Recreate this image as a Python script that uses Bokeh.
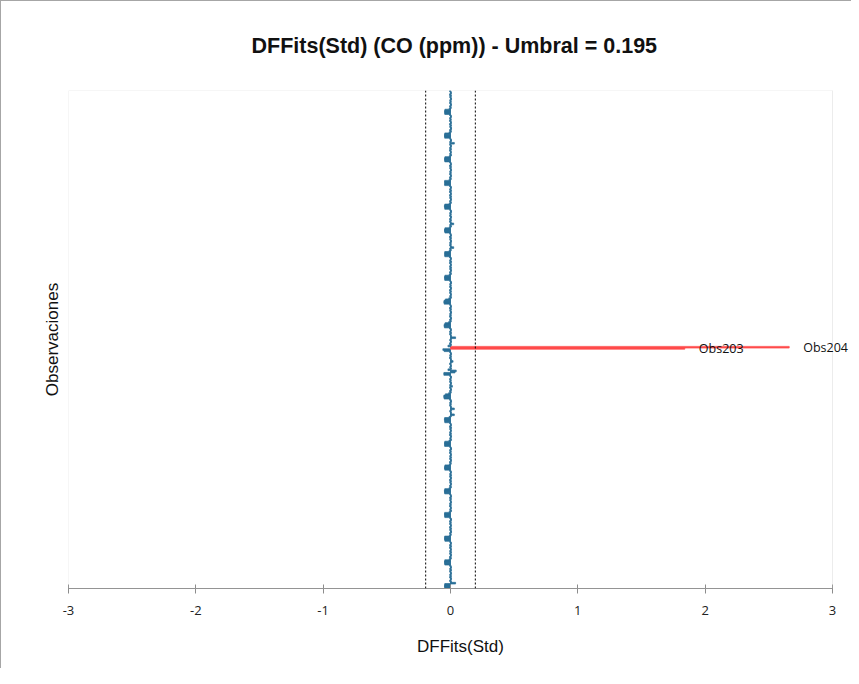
from bokeh.plotting import figure
from bokeh.models import ColumnDataSource, Span, Range1d, FixedTicker, Label, BoxAnnotation
from bokeh.embed import file_html
from bokeh.resources import INLINE

title_text = "DFFits(Std) (CO (ppm)) - Umbral = 0.195"
x_label = "DFFits(Std)"
y_label = "Observaciones"
threshold = 0.195
x_ticks = [-3, -2, -1, 0, 1, 2, 3]

dffits = [
    -0.044, -0.047, -0.047, -0.045, 0.040, 0.008, -0.007, 0.006, 0.008, -0.007, 0.007, -0.006, 0.008, 0.006, -0.007, 0.008, -0.006, 0.007, 0.006, -0.008,
    -0.045, -0.046, -0.047, -0.045, -0.010, 0.007, -0.008, 0.006, 0.008, -0.007, 0.008, -0.006, 0.007, 0.006, -0.008, 0.008, -0.007, 0.006, 0.007, -0.006,
    -0.044, -0.047, -0.046, -0.046, -0.009, 0.006, -0.007, 0.008, 0.007, -0.006, 0.008, -0.008, 0.006, 0.007, -0.007, 0.006, -0.008, 0.007, 0.008, -0.006,
    -0.045, -0.046, -0.047, -0.046, -0.010, 0.008, -0.006, 0.007, 0.006, -0.008, 0.006, -0.007, 0.008, 0.006, -0.006, 0.007, -0.007, 0.008, 0.006, -0.007,
    -0.046, -0.047, -0.048, -0.045, -0.011, 0.007, -0.007, 0.006, 0.008, -0.006, 0.007, -0.008, 0.006, 0.008, -0.007, 0.008, -0.006, 0.006, 0.007, -0.008,
    -0.045, -0.047, -0.046, -0.044, -0.009, 0.006, -0.008, 0.007, 0.007, -0.007, 0.008, -0.006, 0.007, 0.006, -0.008, 0.006, -0.007, 0.008, 0.007, -0.006,
    -0.046, -0.046, -0.047, -0.045, -0.012, 0.008, -0.006, 0.006, 0.008, -0.008, 0.007, -0.007, 0.006, 0.007, -0.006, 0.008, -0.008, 0.007, 0.006, -0.007,
    -0.045, -0.045, -0.048, -0.046, -0.011, 0.007, 0.030, 0.006, 0.007, -0.006, 0.008, 0.030, 0.007, 0.006, -0.007, 0.006, -0.006, 0.008, 0.007, -0.008,
    -0.050, -0.052, -0.052, -0.040, -0.014, 0.006, -0.007, 0.008, 0.006, -0.008, 0.015, -0.006, 0.007, 0.008, -0.007, 0.006, -0.007, 0.006, 0.008, -0.006,
    -0.052, -0.052, 0.035, 0.045, -0.020, 0.008, -0.006, 0.007, 0.006, -0.007, 0.007, 0.020, 0.006, 0.007, -0.008, 0.007, -0.006, 0.008, 0.006, -0.007,
    -0.050, -0.060, 1.840, 2.660, -0.020, 0.007, -0.008, 0.006, 0.008, -0.006, 0.008, 0.040, 0.007, 0.006, -0.007, 0.008, -0.007, 0.006, 0.007, -0.008,
    -0.048, -0.050, -0.049, -0.042, -0.014, 0.006, -0.007, 0.008, 0.007, -0.008, 0.006, -0.006, 0.008, 0.007, -0.006, 0.007, -0.008, 0.007, 0.006, -0.007,
    -0.050, -0.052, -0.050, -0.040, -0.013, 0.008, -0.006, 0.007, 0.006, -0.007, 0.007, -0.008, 0.006, 0.008, -0.007, 0.006, -0.006, 0.008, 0.007, -0.006,
    -0.045, -0.046, -0.047, -0.044, -0.010, 0.007, -0.008, 0.006, 0.008, -0.006, 0.008, -0.007, 0.007, 0.006, -0.008, 0.008, -0.007, 0.006, 0.007, -0.008,
    -0.045, -0.045, -0.046, -0.045, -0.011, 0.006, -0.007, 0.025, 0.007, -0.007, 0.006, -0.006, 0.008, 0.007, -0.006, 0.007, -0.008, 0.007, 0.006, -0.007,
    -0.044, -0.047, -0.047, -0.044, -0.009, 0.008, -0.006, 0.025, 0.006, -0.008, 0.007, -0.007, 0.006, 0.008, -0.007, 0.006, -0.006, 0.008, 0.007, -0.006,
    -0.045, -0.046, -0.048, -0.045, -0.010, 0.007, -0.007, 0.006, 0.008, -0.006, 0.008, -0.008, 0.007, 0.006, -0.008, 0.008, -0.007, 0.006, 0.007, -0.008,
    -0.046, -0.045, -0.046, -0.046, -0.011, 0.006, -0.008, 0.007, 0.007, -0.007, 0.006, -0.006, 0.008, 0.007, -0.006, 0.007, -0.008, 0.007, 0.006, -0.007,
    -0.045, -0.046, -0.047, -0.044, -0.009, 0.008, -0.006, 0.006, 0.006, -0.008, 0.007, -0.007, 0.006, 0.008, -0.007, 0.030, -0.006, 0.008, 0.007, -0.006,
    -0.046, -0.047, -0.047, -0.045, -0.011, 0.007, -0.007, 0.008, 0.008, -0.006, 0.008, -0.008, 0.007, 0.006, -0.008, 0.006, -0.007, 0.006, 0.007, -0.008,
    -0.045, -0.046, -0.046, -0.044, -0.010, 0.006, -0.008, 0.007, 0.007, -0.007, 0.006, -0.006, 0.008, 0.007, -0.006, 0.007, -0.008, 0.007, 0.006, -0.007,
]

obs = list(range(1, len(dffits) + 1))
names = ["Obs%d" % i for i in obs]
colors = ["#FF4B4B" if abs(v) > threshold else "#2A6F97" for v in dffits]

bars = ColumnDataSource(dict(obs=obs, val=dffits, color=colors))

# frame extends a little past 3 so the point labels are not clipped
p = figure(width=851, height=668, output_backend="svg", toolbar_location=None,
           x_range=Range1d(-3, 3.157), y_range=Range1d(0.5, len(dffits) + 0.5),
           min_border_left=67, min_border_right=0, min_border_top=89,
           min_border_bottom=81)
p.styles = {"border-left": "1px solid #A6A6A6", "border-top": "1px solid #A6A6A6"}
p.background_fill_color = "white"
p.border_fill_color = "white"
p.outline_line_color = None
p.grid.visible = False

# plot-area border from -3 to 3
p.add_layout(BoxAnnotation(left=x_ticks[0], right=x_ticks[-1], fill_alpha=0,
                           line_color="#BFBFBF", line_width=1))

p.title.text = title_text
p.title.align = "left"
p.title.offset = 183
p.title.vertical_align = "top"
p.title.text_font = "Liberation Sans"
p.title.text_font_size = "21.5px"
p.title.text_font_style = "bold"
p.title.text_color = "#111111"
p.title.standoff = 62

p.hbar(y="obs", left=0, right="val", height=1.4, fill_color="color",
       line_color="color", line_width=0.7, source=bars)

for loc in (-threshold, threshold):
    p.add_layout(Span(location=loc, dimension="height", line_color="black",
                      line_width=1, line_dash="2 2"))

for i, v in enumerate(dffits):
    if abs(v) > threshold:
        p.add_layout(Label(x=v, y=obs[i], text=names[i], x_offset=14,
                           text_baseline="middle", text_align="left",
                           text_font="Open Sans", text_font_size="12.5px",
                           text_color="#111111"))

p.xaxis.ticker = FixedTicker(ticks=x_ticks)
p.xaxis.bounds = (x_ticks[0], x_ticks[-1])
p.xaxis.major_label_overrides = {t: str(t) for t in x_ticks}
p.xaxis.axis_label = x_label
p.xaxis.axis_line_color = "#8C8C8C"
p.xaxis.major_tick_line_color = "#8C8C8C"
p.xaxis.major_tick_in = 4
p.xaxis.major_tick_out = 5
p.xaxis.minor_tick_line_color = None
p.xaxis.major_label_standoff = 12
p.xaxis.major_label_text_font = "Open Sans"
p.xaxis.major_label_text_font_size = "13px"
p.xaxis.major_label_text_color = "#222222"
p.xaxis.axis_label_standoff = 19
p.xaxis.axis_label_text_font = "Liberation Sans"
p.xaxis.axis_label_text_font_size = "17px"
p.xaxis.axis_label_text_font_style = "normal"
p.xaxis.axis_label_text_color = "#111111"

p.yaxis.ticker = FixedTicker(ticks=[])
p.yaxis.axis_label = y_label
p.yaxis.axis_line_color = None
p.yaxis.major_tick_line_color = None
p.yaxis.minor_tick_line_color = None
p.yaxis.major_label_standoff = 0
p.yaxis.axis_label_standoff = 7
p.yaxis.axis_label_text_font = "Liberation Sans"
p.yaxis.axis_label_text_font_size = "17px"
p.yaxis.axis_label_text_font_style = "normal"
p.yaxis.axis_label_text_color = "#111111"

open("out.html", "w").write(file_html(p, INLINE))
